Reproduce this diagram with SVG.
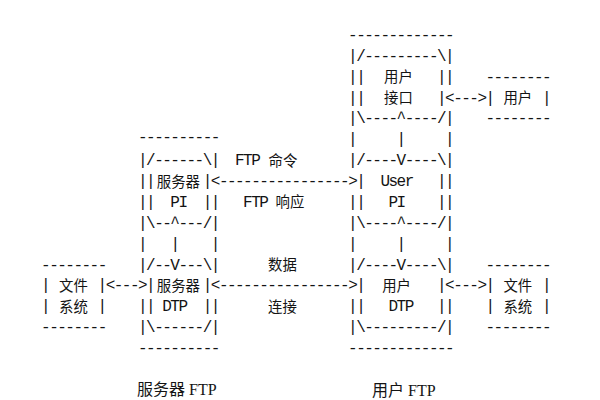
<svg xmlns="http://www.w3.org/2000/svg" width="600" height="400" viewBox="0 0 600 400" xml:space="preserve">
<style>
text{fill:#141414}
.m{font-family:"Liberation Mono","DejaVu Sans Mono",monospace;font-size:16px;letter-spacing:-1.52px;white-space:pre}
.c{font-family:"Noto Sans CJK SC",sans-serif;font-size:14.4px;text-anchor:middle}
.b{font-family:"Liberation Serif","Noto Sans CJK SC",serif;font-size:16px;white-space:pre}
</style>
<rect width="600" height="400" fill="#ffffff"/>

<g id="user-ftp">
<text class="m" x="348.1" y="40">-------------</text>
<text class="m" x="348.1" y="144.3">|</text><text class="m" x="445.1" y="144.3">|</text>
<text class="m" x="348.1" y="248.6">|</text><text class="m" x="445.1" y="248.6">|</text>
<text class="m" x="348.1" y="352.9">-------------</text>
</g>

<g id="user-interface">
<text class="m" x="348.1" y="60.9">|/---------\|</text>
<text class="m" x="348.1" y="81.7">||</text><text class="c" x="398.5" y="82.2">用户</text><text class="m" x="437" y="81.7">||</text>
<text class="m" x="348.1" y="102.6">||</text><text class="c" x="398.5" y="103.1">接口</text><text class="m" x="437" y="102.6">|</text>
<text class="m" x="348.1" y="123.4">|\----^----/|</text>
</g>

<g id="user">
<text class="m" x="485.5" y="81.7">--------</text>
<text class="m" x="485.5" y="102.6">|</text><text class="c" x="517.8" y="103.1">用户</text><text class="m" x="542" y="102.6">|</text>
<text class="m" x="485.5" y="123.4">--------</text>
</g>

<g id="user-pi">
<text class="m" x="348.1" y="165.2">|/----V----\|</text>
<text class="m" x="356.2" y="186">|  User   ||</text>
<text class="m" x="348.1" y="206.9">||   PI    ||</text>
<text class="m" x="348.1" y="227.7">|\----^----/|</text>
</g>

<g id="user-dtp">
<text class="m" x="348.1" y="269.5">|/----V----\|</text>
<text class="m" x="356.2" y="290.3">|</text><text class="c" x="396.6" y="290.8">用户</text><text class="m" x="437" y="290.3">|</text>
<text class="m" x="348.1" y="311.2">||   DTP   ||</text>
<text class="m" x="348.1" y="332">|\---------/|</text>
</g>

<g id="user-fs">
<text class="m" x="485.5" y="269.5">--------</text>
<text class="m" x="485.5" y="290.3">|</text><text class="c" x="517.8" y="290.8">文件</text><text class="m" x="542" y="290.3">|</text>
<text class="m" x="485.5" y="311.2">|</text><text class="c" x="517.8" y="311.7">系统</text><text class="m" x="542" y="311.2">|</text>
<text class="m" x="485.5" y="332">--------</text>
</g>

<g id="server-ftp">
<text class="m" x="138" y="142.3">----------</text>
<text class="m" x="138" y="248.6">|</text><text class="m" x="210.8" y="248.6">|</text>
<text class="m" x="138" y="352.9">----------</text>
</g>

<g id="server-pi">
<text class="m" x="138" y="165.2">|/------\|</text>
<text class="m" x="138" y="186">||</text><text class="c" x="178.4" y="186.5">服务器</text><text class="m" x="202.7" y="186">|</text>
<text class="m" x="138" y="206.9">||  PI  ||</text>
<text class="m" x="138" y="227.7">|\--^---/|</text>
</g>

<g id="server-dtp">
<text class="m" x="138" y="269.5">|/--V---\|</text>
<text class="m" x="146.1" y="290.3">|</text><text class="c" x="178.4" y="290.8">服务器</text><text class="m" x="202.7" y="290.3">|</text>
<text class="m" x="138" y="311.2">|| DTP  ||</text>
<text class="m" x="138" y="332">|\------/|</text>
</g>

<g id="server-fs">
<text class="m" x="41.1" y="269.5">--------</text>
<text class="m" x="41.1" y="290.3">|</text><text class="c" x="73.4" y="290.8">文件</text><text class="m" x="97.6" y="290.3">|</text>
<text class="m" x="41.1" y="311.2">|</text><text class="c" x="73.4" y="311.7">系统</text><text class="m" x="97.6" y="311.2">|</text>
<text class="m" x="41.1" y="332">--------</text>
</g>

<g id="connectors">
<text class="m" x="445.1" y="102.6">&lt;---&gt;</text>
<text class="m" x="396.6" y="144.3">|</text>
<text class="m" x="210.8" y="186">&lt;----------------&gt;</text>
<text class="m" x="170.4" y="248.6">|</text>
<text class="m" x="396.6" y="248.6">|</text>
<text class="m" x="105.7" y="290.3">&lt;---&gt;</text>
<text class="m" x="210.8" y="290.3">&lt;----------------&gt;</text>
<text class="m" x="445.1" y="290.3">&lt;---&gt;</text>
</g>

<g id="labels">
<text class="m" x="235" y="165.2">FTP</text><text class="c" x="283" y="165.7">命令</text>
<text class="m" x="243.1" y="206.9">FTP</text><text class="c" x="290" y="207.4">响应</text>
<text class="c" x="282.5" y="270">数据</text>
<text class="c" x="282.5" y="311.7">连接</text>
<text class="b" x="137" y="395">服务器 FTP</text>
<text class="b" x="372" y="396">用户 FTP</text>
</g>
</svg>
